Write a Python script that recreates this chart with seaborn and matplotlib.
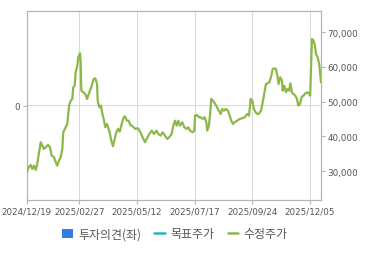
import matplotlib
matplotlib.use("Agg")
import matplotlib.pyplot as plt
import seaborn as sns
import pandas as pd
from matplotlib.lines import Line2D
from matplotlib.patches import Patch

# trading-day index (0 = 2024/12/19) and adjusted close price
trading_day = [0, 1.9, 3.3, 4.7, 6.1, 7.5, 8.8, 10.3, 11.7, 13, 14.4, 15.8, 17.8, 19.4,
               20.8, 22.8, 24.2, 25.5, 26.9, 28.3, 29.7, 30.5, 32.5, 33.8, 35.3, 36.7,
               38, 38.8, 40, 40.8, 42.2, 43, 44.4, 45, 45.5, 47.2, 48.8, 50.3, 51.7,
               53.8, 55.8, 57.2, 58.6, 59.2, 60.5, 61.9, 62.8, 64.2, 65.5, 66.9, 68.3,
               69.7, 70.5, 71.9, 73.3, 74.7, 76.1, 77.5, 78.8, 80.3, 81.7, 83.6, 85,
               86.3, 88.3, 90.5, 92.8, 94.7, 96.7, 98.6, 100, 102.2, 104.2, 106.1,
               108.3, 109.7, 111.7, 113.3, 115.3, 117.2, 118.8, 120.8, 122.2, 123.6,
               125, 126.3, 127.8, 129.7, 131.3, 133.3, 134.7, 136.1, 138.3, 139.7,
               140.3, 141.7, 143.8, 145, 146.9, 148.3, 149.7, 150.5, 151.9, 153,
               153.8, 155.3, 158, 160, 161.7, 162.8, 164.4, 165.8, 167.8, 169.2,
               170.5, 171.9, 173.3, 175.5, 177.5, 179.7, 181.7, 183.8, 185.3, 186.7,
               188, 189.4, 190.8, 192.2, 193.3, 195.3, 196.7, 197.5, 199.4, 200.8,
               202.2, 203.6, 205, 206.3, 207.8, 209.2, 210, 211.3, 212.8, 213.3,
               214.7, 216.1, 217.5, 218.8, 219.7, 221.1, 222.2, 223.8, 225.3, 226.3,
               227.8, 229.2, 230.8, 232.2, 234.2, 235.5, 236.3, 236.9, 237.8, 238.8,
               240, 241.1, 242.5, 243.8, 245.3]
adj_price = [29650, 31180, 31760, 30600, 31550, 30310, 32040, 35420, 38300, 37320,
             36370, 36860, 37520, 36860, 34440, 33980, 32530, 31550, 33000, 33980,
             36370, 41180, 42620, 43570, 48850, 50290, 50780, 54150, 54610, 58470,
             60370, 62800, 63950, 61350, 53170, 52710, 52220, 50780, 52220, 54150,
             56540, 56740, 55100, 50290, 48390, 48850, 46940, 45010, 42620, 43570,
             42130, 40200, 38760, 37150, 39250, 41180, 42130, 41350, 43080, 45010,
             45790, 44520, 44520, 43280, 42910, 42130, 42330, 41180, 39740, 38300,
             39250, 40690, 41640, 40690, 41640, 40690, 40200, 41180, 40200, 39250,
             39740, 40690, 43080, 44520, 43080, 44520, 43080, 44060, 42620, 42130,
             42620, 41640, 41180, 41640, 45960, 46170, 45500, 45500, 45010, 45500,
             44060, 41640, 43080, 46940, 50780, 50290, 48850, 47410, 46450, 47900,
             47410, 47900, 47410, 45960, 44520, 43570, 44060, 44520, 45010, 45210,
             45500, 46450, 45960, 50780, 50290, 47900, 46940, 46450, 46450, 47410,
             49830, 51270, 55100, 55300, 55590, 57030, 59420, 59620, 59420, 57030,
             55100, 57030, 56050, 53170, 54610, 52710, 53660, 53170, 55300, 52710,
             52220, 51730, 50780, 48850, 49340, 51440, 51730, 52420, 52710, 52220,
             51730, 58930, 68070, 67780, 66630, 63750, 62800, 60860, 55590]

tick_days = [0, 44, 92, 140, 188, 236]
tick_labels = ["2024/12/19", "2025/02/27", "2025/05/12", "2025/07/17", "2025/09/24", "2025/12/05"]
price_ticks = [30000, 40000, 50000, 60000, 70000]
legend_labels = ["투자의견(좌)", "목표주가", "수정주가"]

df = pd.DataFrame({"day": trading_day, "price": adj_price})

sns.set_theme(style="white")
plt.rcParams["font.family"] = ["Noto Sans CJK KR", "DejaVu Sans"]

GREEN = "#8cb84a"
BLUE = "#2f7ee0"
TEAL = "#2fb3bf"
SPINE = "#b4b4b4"
GRID = "#d8d8d8"
TXT = "#555555"
PRICE_LIM = (21640, 76150)

fig = plt.figure(figsize=(3.70, 2.55), dpi=100)
ax = fig.add_axes([26.7 / 370, 1 - 201 / 255, (321 - 26.7) / 370, (201 - 12) / 255])
ax2 = ax.twinx()

ax.set_xlim(0, 245.3)
ax.set_ylim(-1, 1)
ax.set_yticks([0])
ax.set_yticklabels(["0"])
ax.set_xticks(tick_days)
ax.set_xticklabels(tick_labels)

sns.lineplot(data=df, x="day", y="price", ax=ax2, color=GREEN, linewidth=1.6, zorder=3)
ax2.set_ylim(*PRICE_LIM)
ax2.set_yticks(price_ticks)
ax2.set_yticklabels([f"{v:,}" for v in price_ticks])
ax2.set_xlim(0, 245.3)
ax2.set_xlabel("")
ax2.set_ylabel("")
ax2.grid(False)
# grid: vertical lines at date ticks, horizontal line at the left-axis zero (mid-height)
for d in tick_days[1:]:
    ax2.axvline(d, color=GRID, linewidth=0.72, zorder=1, antialiased=False, snap=True)
ax2.axhline(sum(PRICE_LIM) / 2, color=GRID, linewidth=0.72, zorder=1,
            antialiased=False, snap=True)

for a in (ax, ax2):
    for s in a.spines.values():
        s.set_color(SPINE)
        s.set_linewidth(0.8)
ax.tick_params(axis="both", color=SPINE, labelcolor=TXT, labelsize=6.3,
               length=3, width=0.8, pad=1.5, bottom=True, left=True)
ax2.tick_params(axis="y", color=SPINE, labelcolor=TXT, labelsize=6.3,
                length=3, width=0.8, pad=1.5, right=True)
for lbl in ax.get_xticklabels() + ax.get_yticklabels() + ax2.get_yticklabels():
    lbl.set_family(["DejaVu Sans"])

handles = [Patch(facecolor=BLUE, edgecolor="none"),
           Line2D([0], [0], color=TEAL, linewidth=1.8),
           Line2D([0], [0], color=GREEN, linewidth=1.8)]
leg = fig.legend(handles, legend_labels, loc="center", bbox_to_anchor=(175 / 370, 1 - 235 / 255),
                 ncol=3, frameon=False, fontsize=8.6, handlelength=0.9, handleheight=0.8,
                 handletextpad=0.45, columnspacing=1.1, labelcolor=TXT)

fig.savefig("out.png", dpi=100)
